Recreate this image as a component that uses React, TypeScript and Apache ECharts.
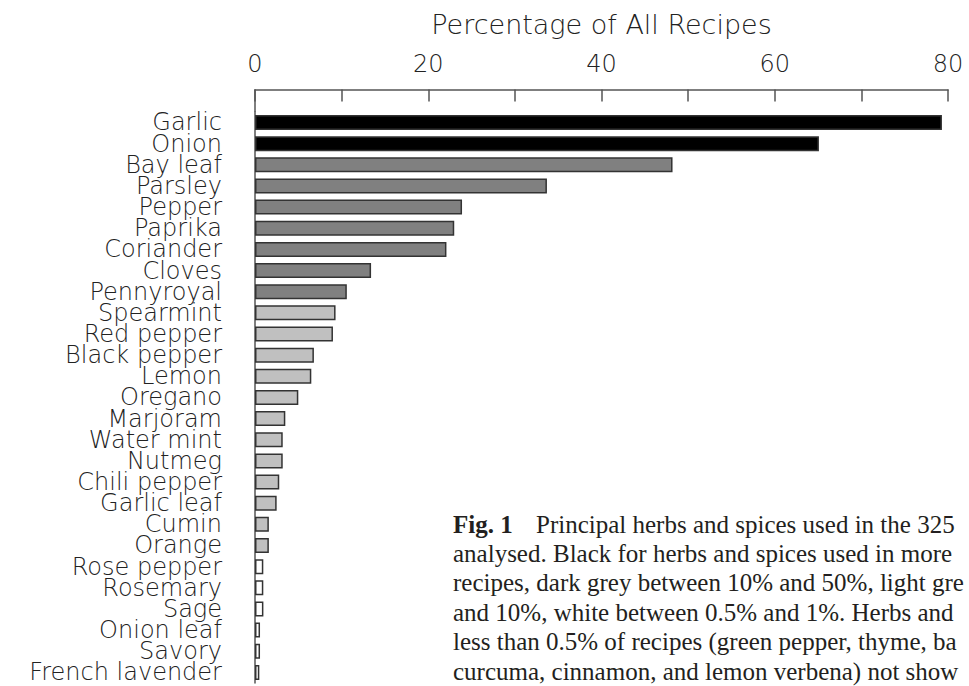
import React, { useEffect, useRef } from "react";
import * as echarts from "echarts";

// Herbs and spices, ordered from most to least used
const categories = [
  "Garlic", "Onion", "Bay leaf", "Parsley", "Pepper", "Paprika", "Coriander",
  "Cloves", "Pennyroyal", "Spearmint", "Red pepper", "Black pepper", "Lemon",
  "Oregano", "Marjoram", "Water mint", "Nutmeg", "Chili pepper", "Garlic leaf",
  "Cumin", "Orange", "Rose pepper", "Rosemary", "Sage", "Onion leaf", "Savory",
  "French lavender",
];

// Percentage of all recipes using each ingredient
const shares = [
  79.3, 65.1, 48.2, 33.7, 23.9, 23.0, 22.1,
  13.4, 10.6, 9.3, 9.0, 6.8, 6.5,
  5.0, 3.5, 3.2, 3.2, 2.8, 2.5,
  1.6, 1.6, 0.96, 0.96, 0.97, 0.58, 0.58,
  0.5,
];

const axisTicks = { min: 0, max: 80, interval: 10, labelEvery: 20 };

const captionHead = "Fig. 1";
const captionLines = [
  "Principal herbs and spices used in the 325",
  "analysed. Black for herbs and spices used in more",
  "recipes, dark grey between 10% and 50%, light gre",
  "and 10%, white between 0.5% and 1%. Herbs and",
  "less than 0.5% of recipes (green pepper, thyme, ba",
  "curcuma, cinnamon, and lemon verbena) not show",
];

// Shade classes described in the caption
function shade(v: number): string {
  if (v > 50) return "#000000";
  if (v > 10) return "#808080";
  if (v >= 1) return "#c0c0c0";
  return "#ffffff";
}

const LABEL_FONT = "DejaVu Sans";

export default function App() {
  const ref = useRef<HTMLDivElement>(null);

  useEffect(() => {
    if (!ref.current) return;
    const chart = echarts.init(ref.current, null, { renderer: "svg" });

    const gridLeft = 255;
    const gridRight = 21;
    const axisY = 89.5;
    const band = 21.15;
    const gridTop = 111.9;
    const gridHeight = band * categories.length;

    const captionX = 453;
    const captionY0 = 524;
    const captionStep = 29.4;
    const captionFont = 25;

    chart.setOption({
      animation: false,
      backgroundColor: "#ffffff",
      grid: { left: gridLeft, right: gridRight, top: gridTop, height: gridHeight, containLabel: false },
      xAxis: {
        type: "value",
        position: "top",
        offset: gridTop - axisY,
        min: axisTicks.min,
        max: axisTicks.max,
        interval: axisTicks.interval,
        name: "Percentage of All Recipes",
        nameLocation: "middle",
        nameGap: 52,
        nameTextStyle: {
          fontFamily: LABEL_FONT,
          fontWeight: 200,
          fontSize: 27,
          color: "#222",
        },
        axisLine: { show: true, lineStyle: { color: "#555", width: 1.5 } },
        axisTick: { show: true, inside: true, length: 12, lineStyle: { color: "#555", width: 1.5 } },
        axisLabel: {
          margin: 14,
          fontFamily: LABEL_FONT,
          fontWeight: 200,
          fontSize: 24,
          color: "#222",
          formatter: (v: number) => (v % axisTicks.labelEvery === 0 ? String(v) : ""),
        },
        splitLine: { show: false },
      },
      yAxis: {
        type: "category",
        inverse: true,
        data: categories,
        axisLine: { show: true, lineStyle: { color: "#555", width: 1.5 } },
        axisTick: { show: false },
        axisLabel: {
          interval: 0,
          hideOverlap: false,
          margin: 33,
          fontFamily: LABEL_FONT,
          fontWeight: 200,
          fontSize: 24,
          lineHeight: 21,
          color: "#222",
        },
      },
      series: [
        {
          type: "bar",
          barWidth: 15,
          data: shares.map((v) => ({
            value: v,
            itemStyle: { color: shade(v), borderColor: "#333", borderWidth: 1.5 },
          })),
        },
      ],
      graphic: [
        {
          type: "line",
          shape: { x1: gridLeft, y1: axisY, x2: gridLeft, y2: gridTop },
          style: { stroke: "#555", lineWidth: 1.5 },
          silent: true,
        },
        {
          type: "text",
          x: captionX,
          y: captionY0,
          style: {
            text: captionHead,
            font: `bold ${captionFont}px "Liberation Serif"`,
            fill: "#231f20",
            textVerticalAlign: "middle",
          },
        },
        ...captionLines.map((line, i) => ({
          type: "text",
          x: i === 0 ? captionX + 83 : captionX,
          y: captionY0 + i * captionStep,
          style: {
            text: line,
            font: `${captionFont}px "Liberation Serif"`,
            fill: "#231f20",
            textVerticalAlign: "middle",
          },
        })),
      ],
    });

    return () => chart.dispose();
  }, []);

  return (
    <div
      ref={ref}
      style={{ position: "fixed", left: 0, top: 0, width: 969, height: 686, overflow: "hidden", background: "#fff" }}
    />
  );
}
